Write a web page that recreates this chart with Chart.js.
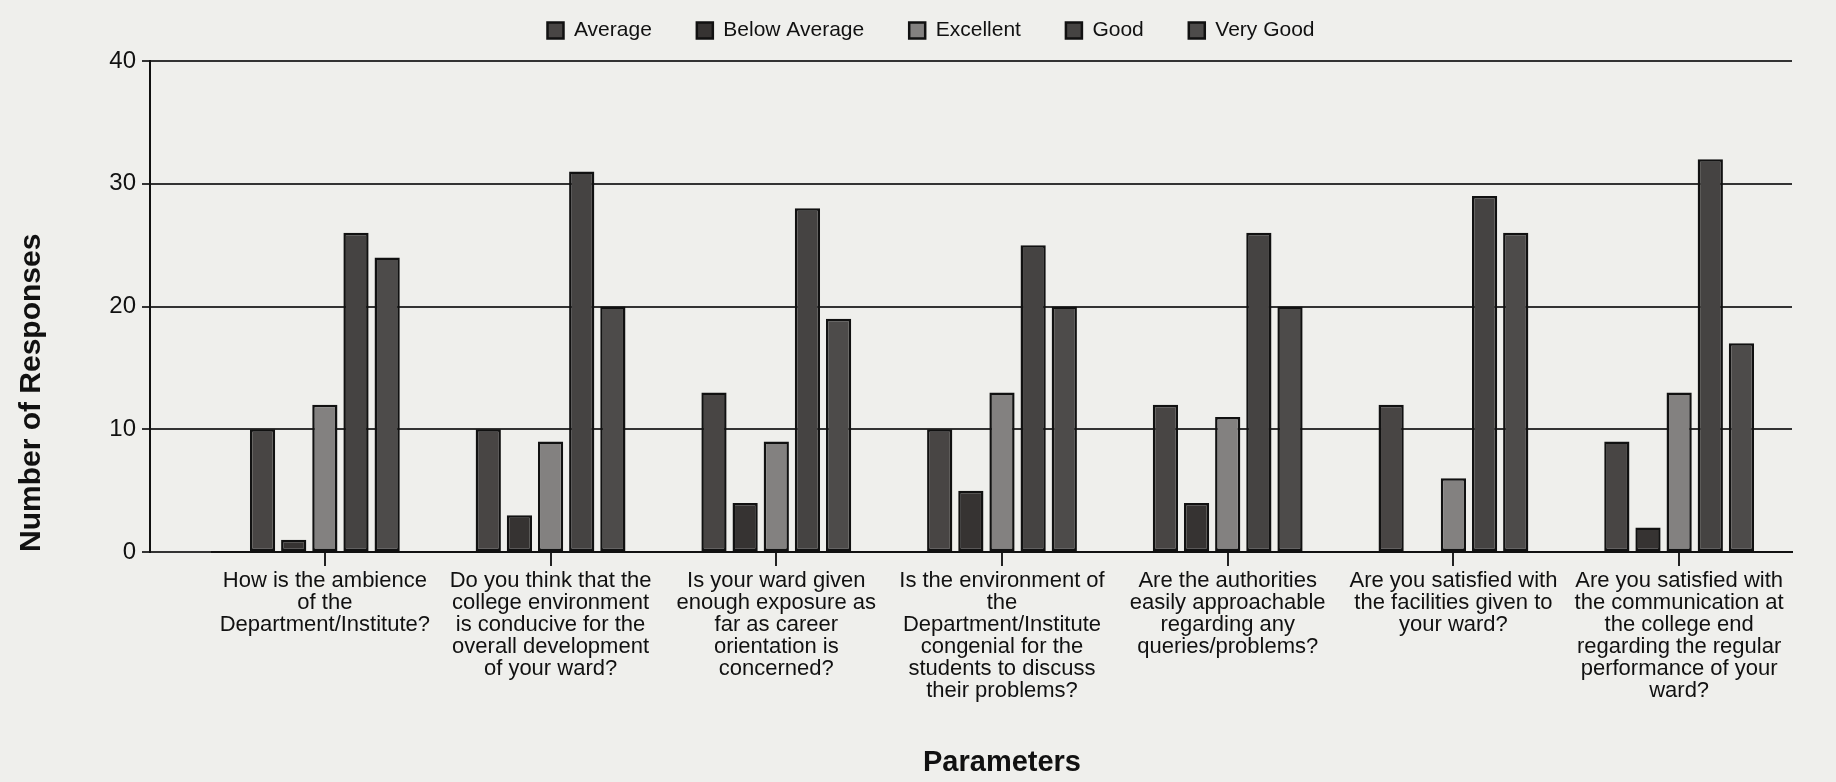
<!DOCTYPE html>
<html>
<head>
<meta charset="utf-8">
<title>Responses by parameter</title>
<script src="https://cdn.jsdelivr.net/npm/chart.js@4.4.1/dist/chart.umd.min.js"></script>
<style>
  html, body { margin: 0; padding: 0; background: #efefec; }
  #wrap { width: 1836px; height: 782px; position: relative; }
</style>
</head>
<body>
<div id="wrap"><canvas id="barChart"></canvas></div>
<script>
// ===== Data =====
const categories = [
  ['How is the ambience', 'of the', 'Department/Institute?'],
  ['Do you think that the', 'college environment', 'is conducive for the', 'overall development', 'of your ward?'],
  ['Is your ward given', 'enough exposure as', 'far as career', 'orientation is', 'concerned?'],
  ['Is the environment of', 'the', 'Department/Institute', 'congenial for the', 'students to discuss', 'their problems?'],
  ['Are the authorities', 'easily approachable', 'regarding any', 'queries/problems?'],
  ['Are you satisfied with', 'the facilities given to', 'your ward?'],
  ['Are you satisfied with', 'the communication at', 'the college end', 'regarding the regular', 'performance of your', 'ward?'],
];

const seriesNames = ['Average', 'Below Average', 'Excellent', 'Good', 'Very Good'];
const average      = [10, 10, 13, 10, 12, 12, 9];
const belowAverage = [1, 3, 4, 5, 4, 0, 2];
const excellent    = [12, 9, 9, 13, 11, 6, 13];
const good         = [26, 31, 28, 25, 26, 29, 32];
const veryGood     = [24, 20, 19, 20, 20, 26, 17];

const yMin = 0;
const yMax = 40;
const yStep = 10;

const BAR_COLORS = ['#484544', '#363332', '#838180', '#454342', '#4d4b4a'];

Chart.defaults.font.family = "'Liberation Sans', Arial, sans-serif";
Chart.defaults.color = '#1a1a1a';

// the category axis starts a little to the right of the y axis,
// and the legend sits a bit right of centre with some room below it
const shiftLayout = {
  id: 'shiftLayout',
  beforeInit(chart) {
    const fit = chart.legend.fit;
    chart.legend.fit = function () {
      fit.call(this);
      this.height += 10;
    };
  },
  afterLayout(chart) {
    const x = chart.scales.x;
    x.left += 62;
    x._startPixel += 62;
    x._length -= 62;
    chart.legend.left += 35;
    chart.legend.right += 35;
  },
};

const seriesData = [average, belowAverage, excellent, good, veryGood];

const ctx = document.getElementById('barChart').getContext('2d');
const barChart = new Chart(ctx, {
  type: 'bar',
  data: {
    labels: categories,
    datasets: seriesNames.map((name, i) => ({
      label: name,
      data: seriesData[i],
      backgroundColor: BAR_COLORS[i],
      borderColor: '#111',
      borderWidth: 2.5,
      borderSkipped: false,
      categoryPercentage: 0.69,
      barPercentage: 0.81,
    })),
  },
  options: {
    responsive: true,
    maintainAspectRatio: false,
    animation: false,
    layout: { padding: { top: -25, right: 44, left: 0, bottom: 0 } },
    scales: {
      x: {
        offset: true,
        afterFit: (s) => { s.height = 230; },
        grid: {
          offset: false,
          drawOnChartArea: false,
          color: '#222',
          lineWidth: 2,
          tickLength: 14,
        },
        border: { color: '#111', width: 2 },
        ticks: {
          color: '#111',
          maxRotation: 0,
          autoSkip: false,
          padding: 4,
          font: { size: 22, lineHeight: 1.0 },
        },
        title: {
          display: true,
          text: 'Parameters',
          color: '#111',
          padding: { top: 0, bottom: 2 },
          font: { size: 29, weight: 'bold' },
        },
      },
      y: {
        min: yMin,
        max: yMax,
        afterFit: (s) => { s.width = 150; },
        grid: {
          color: '#333',
          lineWidth: 2,
          tickLength: 8,
        },
        border: { color: '#111', width: 2 },
        ticks: {
          stepSize: yStep,
          color: '#111',
          padding: 6,
          font: { size: 24 },
        },
        title: {
          display: true,
          text: 'Number of Responses',
          color: '#111',
          align: 'start',
          padding: { top: 14, bottom: 0 },
          font: { size: 30, weight: 'bold' },
        },
      },
    },
    plugins: {
      legend: {
        position: 'top',
        labels: {
          color: '#111',
          boxWidth: 16,
          boxHeight: 16,
          padding: 45,
          font: { size: 21 },
        },
      },
      tooltip: { enabled: false },
    },
  },
  plugins: [shiftLayout],
});
</script>
</body>
</html>
